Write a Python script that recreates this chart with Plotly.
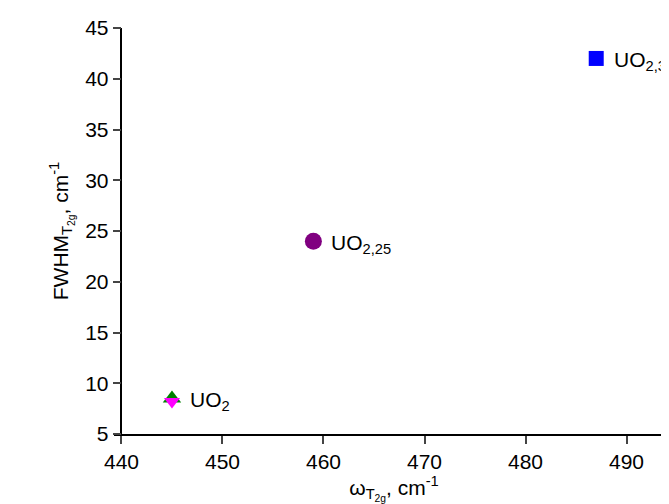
import plotly.graph_objects as go

# Data
labels = ["UO<sub>2</sub>", "UO<sub>2,25</sub>", "UO<sub>2,3</sub>"]
omega = [445, 459, 487]          # ω_T2g, cm-1
fwhm = [8.5, 24, 42]             # FWHM_T2g, cm-1
# UO2 second marker (overlapping)
omega_uo2_b = [445]
fwhm_uo2_b = [8.2]

x_ticks = [440, 450, 460, 470, 480, 490]
y_ticks = [5, 10, 15, 20, 25, 30, 35, 40, 45]

FONT = "Liberation Sans, Arial, sans-serif"
FS = 21

xr = [439.26, 494.7]
yr = [5, 45]

fig = go.Figure()
fig.add_trace(go.Scatter(x=[omega[0]], y=[fwhm[0]], mode="markers",
                         marker=dict(symbol="triangle-up", size=16, color="#008000"),
                         showlegend=False))
fig.add_trace(go.Scatter(x=omega_uo2_b, y=fwhm_uo2_b, mode="markers",
                         marker=dict(symbol="triangle-down", size=14, color="#ff00ff"),
                         showlegend=False))
fig.add_trace(go.Scatter(x=[omega[1]], y=[fwhm[1]], mode="markers",
                         marker=dict(symbol="circle", size=17, color="#800080"),
                         showlegend=False))
fig.add_trace(go.Scatter(x=[omega[2]], y=[fwhm[2]], mode="markers",
                         marker=dict(symbol="square", size=15, color="#0000ff"),
                         showlegend=False))

for lx, ly, lt in zip(omega, fwhm, labels):
    fig.add_annotation(x=lx, y=ly, xref="x", yref="y", text=lt, showarrow=False,
                       xanchor="left", yanchor="middle", xshift=16, yshift=-3,
                       font=dict(family=FONT, size=FS, color="black"))

ypos = (440 - xr[0]) / (xr[1] - xr[0])

fig.update_layout(
    width=669, height=504,
    margin=dict(l=106, r=3, t=20, b=78),
    paper_bgcolor="white", plot_bgcolor="white",
    font=dict(family=FONT, size=FS, color="black"),
    xaxis=dict(range=xr, tickvals=x_ticks, ticks="outside", ticklen=8, tickwidth=1.5,
               showline=True, linewidth=1.5, linecolor="black", showgrid=False, zeroline=False,
               tickfont=dict(size=FS),
               title=dict(text="ω<sub>T<sub>2g</sub></sub>, cm<sup>-1</sup>", standoff=7,
                          font=dict(size=FS))),
    yaxis=dict(range=yr, tickvals=y_ticks, ticks="outside", ticklen=8, tickwidth=1.5,
               showline=True, linewidth=1.5, linecolor="black", showgrid=False, zeroline=False,
               anchor="free", position=ypos,
               tickfont=dict(size=FS),
               title=dict(text="FWHM<sub>T<sub>2g</sub></sub>, cm<sup>-1</sup>", standoff=10,
                          font=dict(size=FS))),
)

fig.write_html("out.html")
